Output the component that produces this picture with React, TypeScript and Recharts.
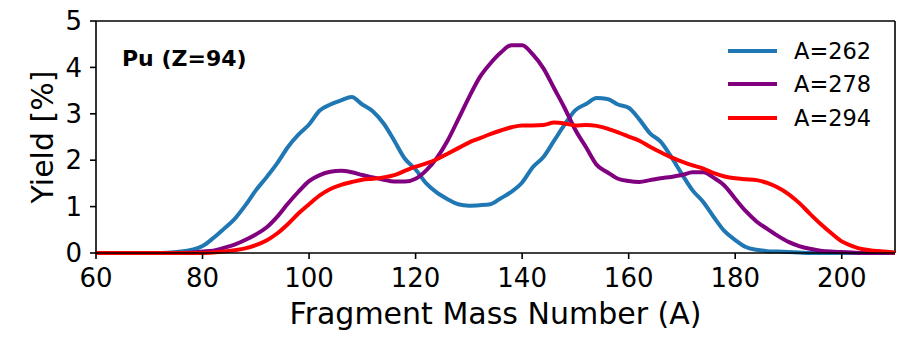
import { Legend, Line, LineChart, ReferenceLine, XAxis, YAxis } from 'recharts';

document.body.style.margin = '0';

const massNumbers = [
  60, 62, 64, 66, 68, 70, 72, 74, 76, 78, 80, 82, 84, 86, 88, 90, 92, 94, 96, 98, 100, 102, 104, 106, 108, 110,
  112, 114, 116, 118, 120, 122, 124, 126, 128, 130, 132, 134, 136, 138, 140, 142, 144, 146, 148, 150, 152, 154,
  156, 158, 160, 162, 164, 166, 168, 170, 172, 174, 176, 178, 180, 182, 184, 186, 188, 190, 192, 194, 196, 198,
  200, 202, 204, 206, 208, 210,
];

const yieldA262 = [
  0, 0, 0, 0, 0, 0, 0, 0.01, 0.03, 0.07, 0.15, 0.32, 0.52, 0.73, 1.02, 1.35, 1.63, 1.93, 2.28, 2.55, 2.77, 3.07,
  3.2, 3.29, 3.36, 3.2, 3.05, 2.79, 2.42, 2.03, 1.8, 1.5, 1.3, 1.16, 1.05, 1.02, 1.03, 1.05, 1.18, 1.32, 1.52,
  1.85, 2.07, 2.42, 2.77, 3.08, 3.21, 3.34, 3.32, 3.2, 3.13, 2.88, 2.58, 2.4, 2.07, 1.7, 1.35, 1.1, 0.77, 0.47,
  0.28, 0.13, 0.07, 0.04, 0.03, 0.02, 0.01, 0, 0, 0, 0, 0, 0, 0, 0, 0,
];

const yieldA278 = [
  0, 0, 0, 0, 0, 0, 0, 0, 0, 0.01, 0.03, 0.05, 0.11, 0.18, 0.28, 0.4, 0.55, 0.78, 1.06, 1.32, 1.55, 1.68, 1.75,
  1.77, 1.74, 1.68, 1.63, 1.58, 1.54, 1.54, 1.6, 1.78, 2.05, 2.42, 2.88, 3.35, 3.78, 4.08, 4.32, 4.48, 4.48, 4.28,
  3.98, 3.55, 3.12, 2.65, 2.28, 1.9, 1.74, 1.6, 1.55, 1.53, 1.57, 1.61, 1.64, 1.68, 1.74, 1.74, 1.62, 1.45, 1.17,
  0.9, 0.68, 0.52, 0.37, 0.24, 0.15, 0.09, 0.05, 0.03, 0.02, 0.01, 0, 0, 0, 0,
];

const yieldA294 = [
  0, 0, 0, 0, 0, 0, 0, 0, 0, 0, 0, 0.01, 0.03, 0.06, 0.1, 0.17, 0.27, 0.42, 0.62, 0.85, 1.05, 1.24, 1.38, 1.47,
  1.53, 1.58, 1.6, 1.63, 1.68, 1.77, 1.86, 1.93, 2.02, 2.14, 2.26, 2.38, 2.47, 2.56, 2.64, 2.71, 2.75, 2.75, 2.76,
  2.81, 2.79, 2.75, 2.76, 2.74, 2.68, 2.6, 2.51, 2.42, 2.29, 2.17, 2.06, 1.97, 1.89, 1.82, 1.72, 1.65, 1.61, 1.59,
  1.57, 1.51, 1.41, 1.27, 1.08, 0.85, 0.63, 0.43, 0.25, 0.15, 0.08, 0.05, 0.03, 0.01,
];

const xTicks = [60, 80, 100, 120, 140, 160, 180, 200];
const yTicks = [0, 1, 2, 3, 4, 5];

const series = [
  { key: 'a262', name: 'A=262', color: '#1f77b4' },
  { key: 'a278', name: 'A=278', color: '#800080' },
  { key: 'a294', name: 'A=294', color: '#ff0000' },
];

const data = massNumbers.map((A, i) => ({ A, a262: yieldA262[i], a278: yieldA278[i], a294: yieldA294[i] }));

const font = 'DejaVu Sans';

const XLabel = ({ viewBox }: any) => (
  <text x={viewBox.x + viewBox.width / 2} y={viewBox.y + 71} textAnchor="middle" fontSize={30} fontFamily={font} fill="#000">
    Fragment Mass Number (A)
  </text>
);

const YLabel = ({ viewBox }: any) => {
  const cx = viewBox.x + 53;
  const cy = viewBox.y + viewBox.height / 2;
  return (
    <text x={cx} y={cy} transform={`rotate(-90, ${cx}, ${cy})`} textAnchor="middle" fontSize={30} fontFamily={font} fill="#000">
      Yield [%]
    </text>
  );
};

// custom legend so the line swatches match the thick matplotlib handles
const LegendBox = () => (
  <div style={{ fontFamily: font, fontSize: 22.5 }}>
    {series.map((s) => (
      <div key={s.key} style={{ display: 'flex', alignItems: 'center', height: 33.5 }}>
        <svg width={49} height={6} style={{ marginRight: 17 }}>
          <line x1={0} y1={3} x2={49} y2={3} stroke={s.color} strokeWidth={4} />
        </svg>
        <span>{s.name}</span>
      </div>
    ))}
  </div>
);

export default function App() {
  return (
    <div style={{ position: 'relative', width: 898, height: 340, background: '#fff' }}>
      <LineChart width={898} height={340} data={data} margin={{ top: 21, right: 3, left: 0, bottom: 0 }}>
        <XAxis
          dataKey="A"
          type="number"
          domain={[60, 210]}
          ticks={xTicks}
          allowDataOverflow
          height={87}
          tickSize={6}
          tickMargin={10}
          stroke="#000"
          strokeWidth={1.6}
          tick={{ fontSize: 26, fontFamily: font, fill: '#000' }}
          label={<XLabel />}
        />
        <YAxis
          type="number"
          domain={[0, 5]}
          ticks={yTicks}
          width={96}
          tickSize={6}
          tickMargin={8}
          stroke="#000"
          strokeWidth={1.6}
          tick={{ fontSize: 26, fontFamily: font, fill: '#000' }}
          label={<YLabel />}
        />
        <ReferenceLine y={5} stroke="#000" strokeWidth={1.6} />
        <ReferenceLine x={210} stroke="#000" strokeWidth={1.6} />
        {series.map((s) => (
          <Line
            key={s.key}
            dataKey={s.key}
            name={s.name}
            type="monotone"
            stroke={s.color}
            strokeWidth={4}
            dot={false}
            isAnimationActive={false}
          />
        ))}
        <Legend
          layout="vertical"
          verticalAlign="middle"
          align="center"
          content={<LegendBox />}
          wrapperStyle={{ top: 34, left: 728, width: 170 }}
        />
      </LineChart>
      <div
        style={{
          position: 'absolute',
          left: 122,
          top: 44,
          fontFamily: font,
          fontWeight: 'bold',
          fontSize: 22,
          lineHeight: '30px',
        }}
      >
        Pu (Z=94)
      </div>
    </div>
  );
}
